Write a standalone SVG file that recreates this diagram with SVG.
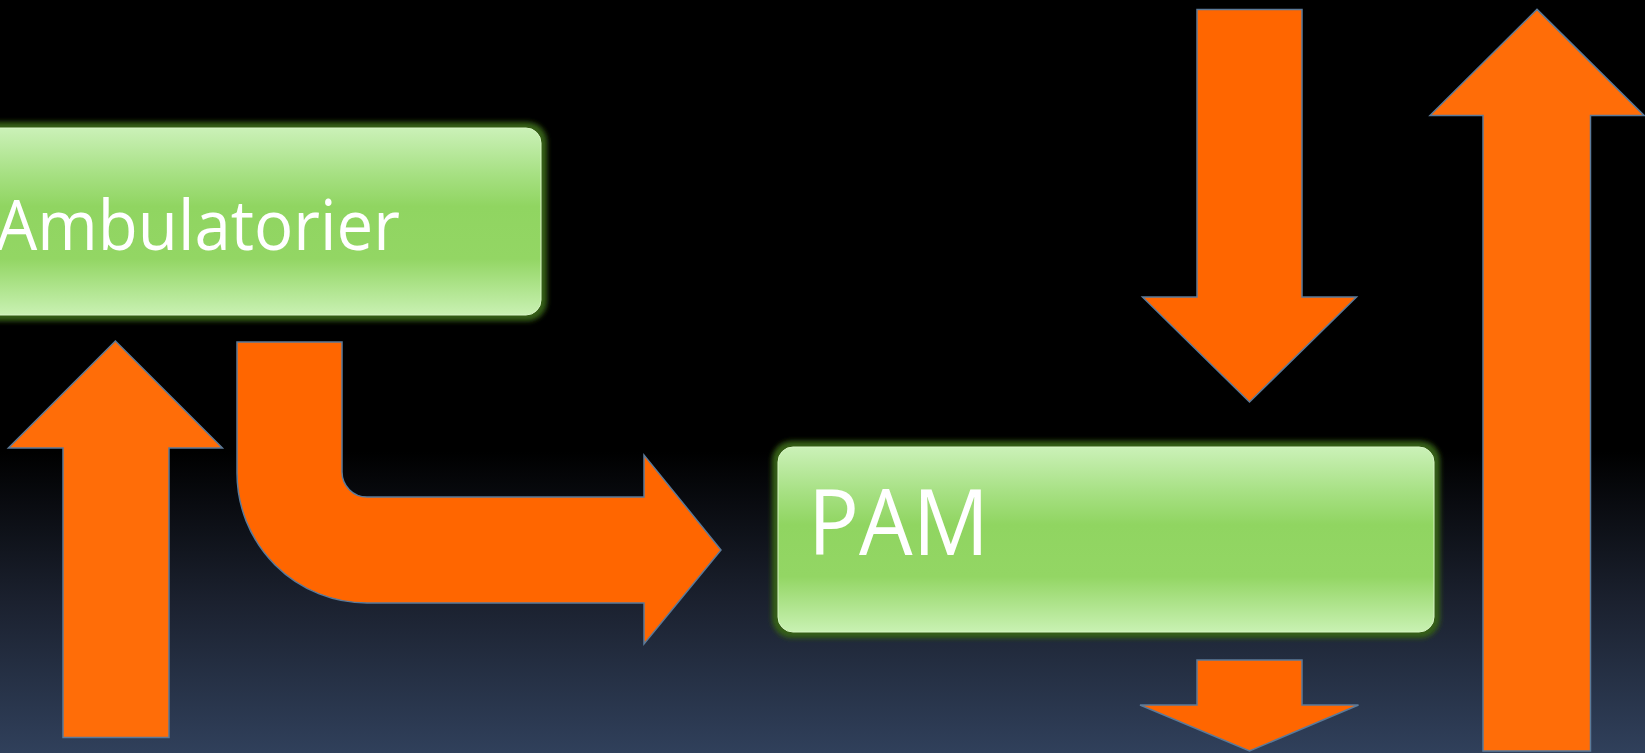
<svg xmlns="http://www.w3.org/2000/svg" width="1645" height="753" viewBox="0 0 1645 753">
<defs>
<linearGradient id="bg" x1="0" y1="0" x2="0" y2="1">
<stop offset="0" stop-color="#000000"/>
<stop offset="0.6" stop-color="#000000"/>
<stop offset="0.8" stop-color="#1b212f"/>
<stop offset="1" stop-color="#30405b"/>
</linearGradient>
<linearGradient id="green" x1="0" y1="0" x2="0" y2="1">
<stop offset="0" stop-color="#cbf1b8"/>
<stop offset="0.25" stop-color="#a6e082"/>
<stop offset="0.42" stop-color="#90d561"/>
<stop offset="0.7" stop-color="#93d664"/>
<stop offset="1" stop-color="#c9f1b3"/>
</linearGradient>
<filter id="glow" x="-10%" y="-20%" width="120%" height="140%">
<feGaussianBlur stdDeviation="2.5"/>
</filter>
<style>
.arrow{fill:#ff6600;stroke:#5b7a99;stroke-width:1.5;stroke-linejoin:miter}
.arrow2{fill:#ff6d08;stroke:#5b7a99;stroke-width:1.5}
.box{fill:url(#green);stroke:#d8f5c6;stroke-width:1}
.halo{fill:#355f18;filter:url(#glow)}
.label{fill:#ffffff;font-family:"Open Sans",Lato,sans-serif;font-weight:400}
</style>
</defs>
<rect x="0" y="0" width="1645" height="753" fill="url(#bg)"/>

<g id="node-ambulatorier">
<rect class="halo" x="-36" y="122" width="583" height="199" rx="20"/>
<rect class="box" x="-30" y="128" width="571" height="187" rx="15"/>
<text class="label" x="-4" y="250" font-size="70" textLength="404" lengthAdjust="spacingAndGlyphs">Ambulatorier</text>
</g>

<g id="node-pam">
<rect class="halo" x="772" y="441" width="668" height="197" rx="20"/>
<rect class="box" x="778" y="447" width="656" height="185" rx="15"/>
<text class="label" x="808" y="555" font-size="92" textLength="181" lengthAdjust="spacingAndGlyphs">PAM</text>
</g>

<g id="connectors">
<path class="arrow2" d="M115.4,341 L222.4,448 L169,448 L169,737.5 L63,737.5 L63,448 L8.4,448 Z"/>
<path class="arrow" d="M237,342 L342,342 L342,472 A25,25 0 0 0 367,497 L644,497 L644,455 L721,550 L644,644 L644,603 L367,603 A130,130 0 0 1 237,473 Z"/>
<path class="arrow" d="M1197,9.4 L1302,9.4 L1302,297 L1356.5,297 L1249.5,402 L1142.5,297 L1197,297 Z"/>
<path class="arrow2" d="M1537,9.4 L1644,115.4 L1590.5,115.4 L1590.5,751 L1483,751 L1483,115.4 L1430,115.4 Z"/>
<path class="arrow" d="M1197,660 L1302,660 L1302,705 L1358.5,705 L1249.5,751 L1140,705 L1197,705 Z"/>
</g>
</svg>
